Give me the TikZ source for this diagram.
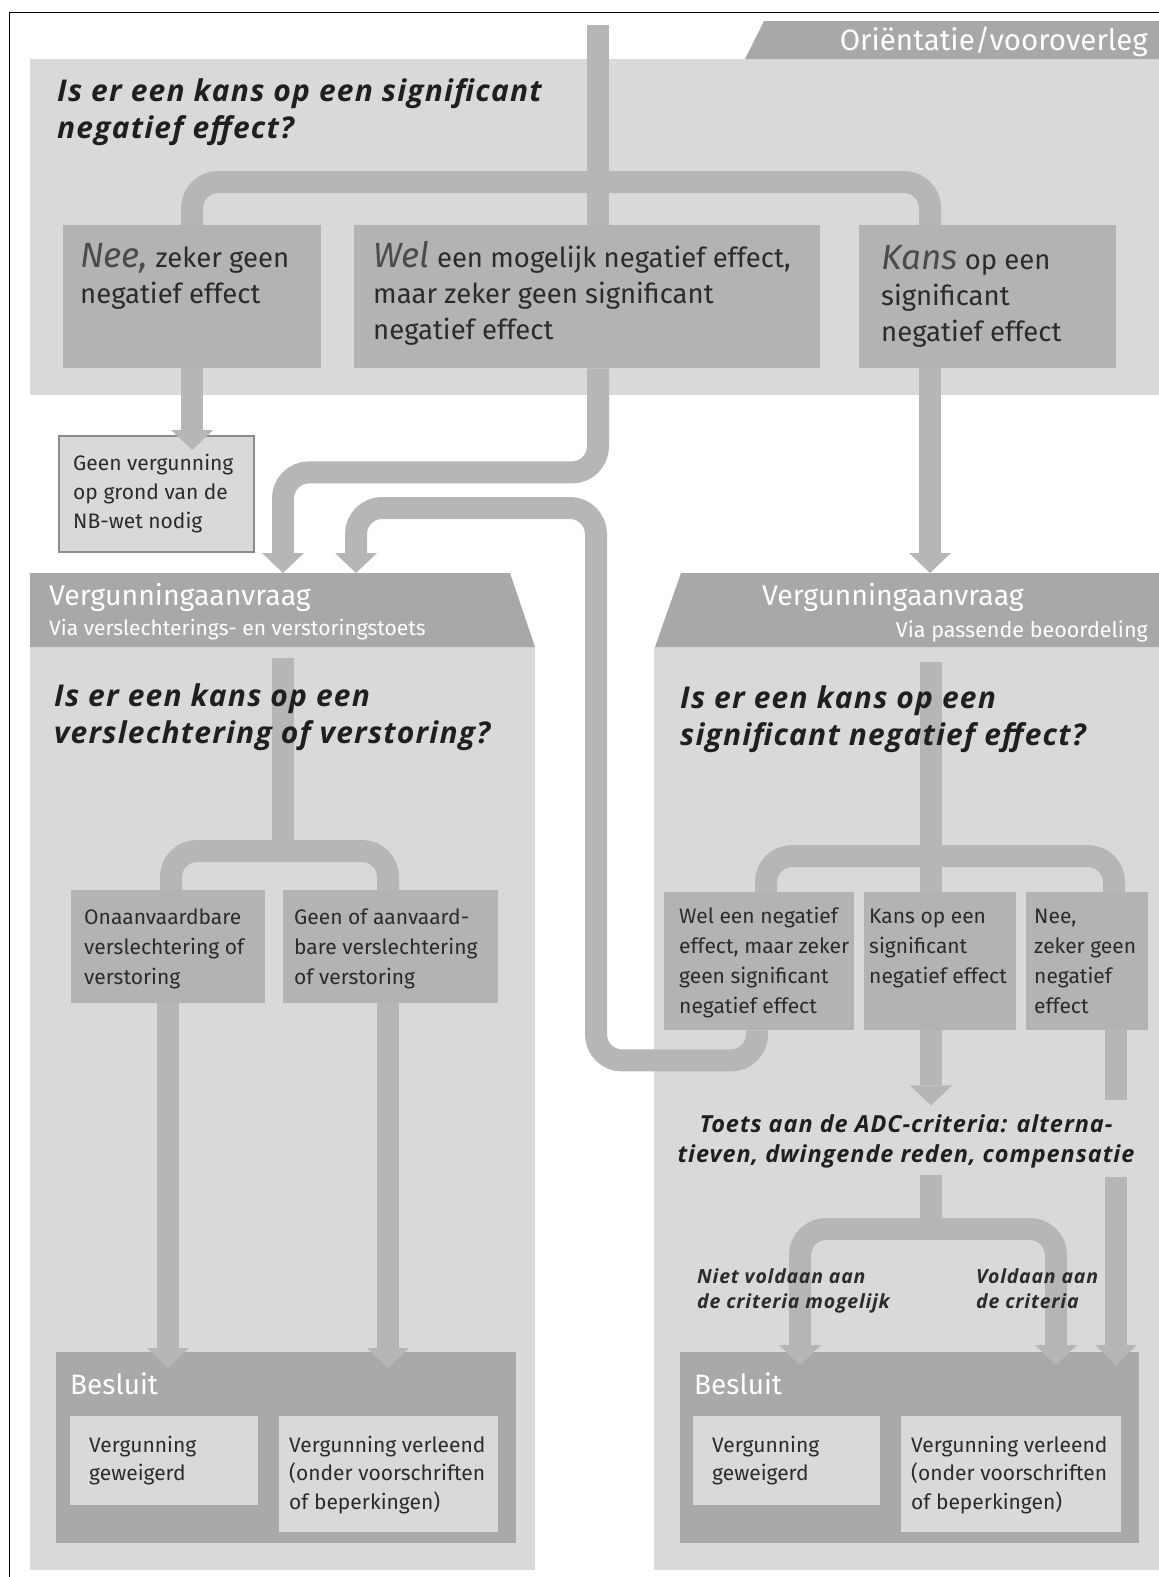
\documentclass[tikz,border=0pt]{standalone}
\usepackage{fontspec}
\setmainfont{Fira Sans}
\newfontfamily\vraagfont{Open Sans}[LetterSpace=4]
\usetikzlibrary{arrows.meta}

\definecolor{paneelgrijs}{HTML}{D9D9D9}
\definecolor{kopgrijs}{HTML}{A8A8A8}
\definecolor{vakgrijs}{HTML}{B3B3B3}
\definecolor{baangrijs}{HTML}{B6B6B6}
\definecolor{besluitgrijs}{HTML}{A9A9A9}
\definecolor{randgrijs}{HTML}{8C8C8C}
\definecolor{inkt}{HTML}{2B2B2B}

\pgfdeclarelayer{achter}
\pgfdeclarelayer{midden}
\pgfsetlayers{achter,midden,main}

\newcommand{\kopwoord}[1]{{\fontsize{35}{36}\selectfont\itshape\color{inkt!85}#1}}

% multi-line text nodes: anchored at the baseline of their last line
\tikzset{
  keuze/.style={fill=vakgrijs, anchor=north west, inner sep=0pt},
  licht/.style={fill=paneelgrijs, anchor=north west, inner sep=0pt},
  besluit/.style={fill=besluitgrijs, anchor=north west, inner sep=0pt},
  lijst/.style={align=left, anchor=base west, inner sep=0pt, text=inkt},
  vraag/.style={lijst, text=black!88, font={\vraagfont\bfseries\itshape\fontsize{30}{37}\selectfont}},
  groot/.style={lijst, font={\fontsize{27.5}{36}\selectfont}},
  klein/.style={lijst, font={\fontsize{21}{30}\selectfont}},
  uitkomst/.style={lijst, font={\vraagfont\bfseries\itshape\fontsize{19.5}{25}\selectfont}},
  wit/.style={text=white, inner sep=0pt, anchor=base west},
  baan/.style={line width=22pt, draw=baangrijs, rounded corners=26pt},
  pijl/.style={baan, -{Triangle[width=42pt,length=20pt,line width=0pt]}},
  pijlen/.style={baan, {Triangle[width=42pt,length=20pt,line width=0pt]}-{Triangle[width=42pt,length=20pt,line width=0pt]}}
}

\begin{document}
\begin{tikzpicture}[x=1pt,y=-1pt]
\useasboundingbox (0,0) rectangle (1159,1577);

\begin{pgfonlayer}{achter}
% panelen en koppen
\fill[paneelgrijs] (30,59) rectangle (1159,395);
\fill[paneelgrijs] (30,647) rectangle (535,1570);
\fill[paneelgrijs] (654,647) rectangle (1159,1570);
\fill[kopgrijs] (745,59) -- (764,21) -- (1159,21) -- (1159,59) -- cycle;
\fill[kopgrijs] (30,647) -- (30,573) -- (510,573) -- (535,647) -- cycle;
\fill[kopgrijs] (655,647) -- (681,573) -- (1159,573) -- (1159,647) -- cycle;
\node[wit, anchor=base east, font={\fontsize{29.5}{30}\selectfont}] (orient) at (1148,50) {Oriëntatie/vooroverleg};
\node[wit, font={\fontsize{28.5}{30}\selectfont}] (aanvrL) at (49,605) {Vergunningaanvraag};
\node[wit, font={\fontsize{21}{22}\selectfont}] (viaL) at (49,635) {Via verslechterings- en verstoringstoets};
\node[wit, font={\fontsize{28.5}{30}\selectfont}] (aanvrR) at (762,605) {Vergunningaanvraag};
\node[wit, anchor=base east, font={\fontsize{21.5}{22}\selectfont}] (viaR) at (1148,637) {Via passende beoordeling};

% besluiten
\node[besluit, minimum width=460, minimum height=191] (besluitL) at (56,1352) {};
\node[besluit, minimum width=459, minimum height=191] (besluitR) at (680,1352) {};
\node[licht, minimum width=188, minimum height=89] (weigL) at (70,1416) {};
\node[licht, minimum width=219, minimum height=116] (verlL) at (279,1416) {};
\node[licht, minimum width=187, minimum height=89] (weigR) at (693,1416) {};
\node[licht, minimum width=220, minimum height=116] (verlR) at (901,1416) {};
\node[wit, font={\fontsize{28}{30}\selectfont}] (besluitLtxt) at (70,1394) {Besluit};
\node[wit, font={\fontsize{28}{30}\selectfont}] (besluitRtxt) at (694,1394) {Besluit};

\node[licht, draw=randgrijs, line width=1.5pt, minimum width=195, minimum height=116] (geen) at (58,435) {};
\end{pgfonlayer}

% keuzevakken
\node[keuze, minimum width=258, minimum height=143] (nee) at (63,225) {};
\node[keuze, minimum width=466, minimum height=143] (wel) at (354,225) {};
\node[keuze, minimum width=257, minimum height=143] (kans) at (859,225) {};
\node[keuze, minimum width=194, minimum height=113] (onaan) at (71,890) {};
\node[keuze, minimum width=215, minimum height=113] (geenof) at (283,890) {};
\node[keuze, minimum width=190, minimum height=138] (boxA) at (664,892) {};
\node[keuze, minimum width=152, minimum height=138] (boxB) at (864,892) {};
\node[keuze, minimum width=122, minimum height=138] (boxC) at (1026,892) {};

\coordinate (bron) at (598,25);
\coordinate (kopL1) at (283,573);
\coordinate (kopL2) at (356,573);
\coordinate (kopR) at (930,573);
\coordinate (vraagL) at (283,658);
\coordinate (vraagR) at (931,662);
\coordinate (omweg) at (596,508);
\coordinate (doorR) at (1116,1177);
\coordinate (toetsuit) at (931,1175);

\begin{pgfonlayer}{midden}
% orientatie
\draw[baan] (bron) -- (bron |- wel.north);
\draw[baan] (nee.north) -- ++(0,-43) -| ([xshift=71pt]kans.north west);
\draw[pijl, shorten >=-15pt] (nee.south) -- (nee.south |- geen.north);
\draw[pijl] (bron |- wel.south) -- ++(0,104) -| (kopL1);
\draw[pijl] ([xshift=71pt]kans.south west) -- (kopR);
% verslechterings- en verstoringstoets
\draw[baan] (vraagL) -- ++(0,200);
\draw[baan] ([xshift=100pt]onaan.north west) -- ++(0,-39) -| ([xshift=105pt]geenof.north west);
\draw[pijl, shorten >=-16pt] ([xshift=97pt]onaan.south west) -- ([xshift=97pt]onaan.south west |- besluitL.north);
\draw[pijl, shorten >=-16pt] ([xshift=105pt]geenof.south west) -- ([xshift=105pt]geenof.south west |- besluitL.north);
% passende beoordeling
\draw[baan] (vraagR) -- (vraagR |- boxB.north);
\draw[baan] ([xshift=102pt]boxA.north west) -- ++(0,-36) -| ([xshift=88pt]boxC.north west);
\draw[pijl] ([xshift=93pt]boxA.south west) -- ++(0,30) -| (omweg) -| (kopL2);
\draw[pijl] ([xshift=67pt]boxB.south west) -- ++(0,75);
\draw[baan] ([xshift=90pt]boxC.south west) -- ++(0,70);
\draw[pijl, shorten >=-13pt] (doorR) -- (doorR |- besluitR.north);
\draw[baan] (toetsuit) -- ++(0,60);
\draw[pijlen] ([xshift=120pt,yshift=-13pt]besluitR.north west) -- ++(0,-136) -| ([xshift=376pt,yshift=-13pt]besluitR.north west);
\end{pgfonlayer}

% teksten
\node[vraag] (vraag1) at (57,138) {Is er een kans op een significant\\negatief effect?};
\node[groot] (neetxt) at (80,303) {\kopwoord{Nee,} zeker geen\\negatief effect};
\node[groot] (weltxt) at (373,339) {\kopwoord{Wel} een mogelijk negatief effect,\\maar zeker geen significant\\negatief effect};
\node[groot] (kanstxt) at (881,341) {\kopwoord{Kans} op een\\significant\\negatief effect};
\node[klein, font={\fontsize{21}{29}\selectfont}] (geentxt) at (73,528) {Geen vergunning\\op grond van de\\NB-wet nodig};

\node[vraag] (vraag2) at (54,743) {Is er een kans op een\\verslechtering of verstoring?};
\node[klein] (onaantxt) at (84,984) {Onaanvaardbare\\verslechtering of\\verstoring};
\node[klein] (geenoftxt) at (294,984) {Geen of aanvaard-\\bare verslechtering\\of verstoring};
\node[klein, font={\fontsize{21}{28.5}\selectfont}] (weigLtxt) at (89,1480.5) {Vergunning\\geweigerd};
\node[klein, font={\fontsize{21}{28.5}\selectfont}] (verlLtxt) at (289,1509) {Vergunning verleend\\(onder voorschriften\\of beperkingen)};

\node[vraag] (vraag3) at (680,745) {Is er een kans op een\\significant negatief effect?};
\node[klein] (boxAtxt) at (679,1013) {Wel een negatief\\effect, maar zeker\\geen significant\\negatief effect};
\node[klein] (boxBtxt) at (869,983) {Kans op een\\significant\\negatief effect};
\node[klein] (boxCtxt) at (1034,1013) {Nee,\\zeker geen\\negatief\\effect};
\node[lijst, anchor=base, align=center, text=black!88, font={\vraagfont\bfseries\itshape\fontsize{23.5}{30}\selectfont}] (toets) at (906,1162) {Toets aan de ADC-criteria: alterna-\\tieven, dwingende reden, compensatie};
\node[uitkomst] (nietv) at (697,1308) {Niet voldaan aan\\de criteria mogelijk};
\node[uitkomst] (welv) at (976,1308) {Voldaan aan\\de criteria};
\node[klein, font={\fontsize{21}{28.5}\selectfont}] (weigRtxt) at (712,1480.5) {Vergunning\\geweigerd};
\node[klein, font={\fontsize{21}{28.5}\selectfont}] (verlRtxt) at (911,1509) {Vergunning verleend\\(onder voorschriften\\of beperkingen)};

% kader
\draw[line width=1.5pt] (9.6,1577) -- (9.6,12.7) -- (1159,12.7);
\end{tikzpicture}
\end{document}
